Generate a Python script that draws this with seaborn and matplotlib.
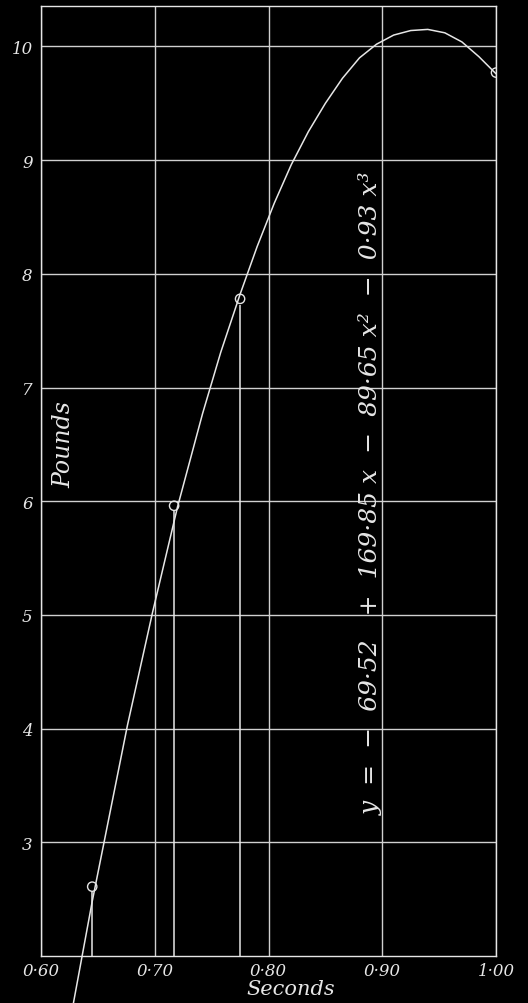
import matplotlib
matplotlib.use("Agg")
import matplotlib.pyplot as plt
import seaborn as sns
import pandas as pd

# curve (seconds, pounds)
curve_x = [0.628, 0.645, 0.656, 0.676, 0.698, 0.720, 0.742, 0.758, 0.775,
           0.790, 0.805, 0.820, 0.835, 0.850, 0.865, 0.880, 0.895, 0.910,
           0.925, 0.940, 0.955, 0.970, 0.985, 1.000]
curve_y = [1.56, 2.48, 3.03, 4.03, 5.02, 5.95, 6.77, 7.31, 7.82,
           8.24, 8.62, 8.96, 9.25, 9.50, 9.72, 9.90, 10.02, 10.10,
           10.14, 10.15, 10.12, 10.04, 9.91, 9.76]

# observed points
obs_x = [0.645, 0.717, 0.775, 1.00]
obs_y = [2.61, 5.96, 7.78, 9.77]

x_ticks = [0.60, 0.70, 0.80, 0.90, 1.00]
x_tick_labels = ["0·60", "0·70", "0·80", "0·90", "1·00"]
y_ticks = [3, 4, 5, 6, 7, 8, 9, 10]
y_tick_labels = ["3", "4", "5", "6", "7", "8", "9", "10"]

equation = "y  =  −  69·52   +  169·85 x  −  89·65 x²  −  0·93 x³"

fg = "#e6e6e6"
sns.set_style("dark", rc={
    "axes.facecolor": "black",
    "figure.facecolor": "black",
    "axes.edgecolor": fg,
    "grid.color": "#d0d0d0",
    "text.color": fg,
    "xtick.color": fg,
    "ytick.color": fg,
    "axes.labelcolor": fg,
})
plt.rcParams["font.family"] = ["DejaVu Serif"]
plt.rcParams["font.style"] = "italic"

fig = plt.figure(figsize=(5.28, 10.04), dpi=100)
ax = fig.add_axes([0.0777, 0.0468, 0.8617, 0.9467])

curve = pd.DataFrame({"x": curve_x, "y": curve_y})
obs = pd.DataFrame({"x": obs_x, "y": obs_y})

ax.set_xlim(0.60, 1.00)
ax.set_ylim(2.0, 10.36)

ax.vlines(obs_x[:3], 2.0, [v - 0.05 for v in obs_y[:3]], color=fg, lw=1.1, zorder=2)
sns.lineplot(data=curve, x="x", y="y", ax=ax, sort=False, estimator=None,
             color=fg, lw=1.1, zorder=3)
for ln in ax.lines:
    ln.set_clip_on(False)
sns.scatterplot(data=obs, x="x", y="y", ax=ax, s=45, facecolor="none",
                edgecolor=fg, linewidth=1.0, zorder=4)

ax.set_xticks(x_ticks)
ax.set_xticklabels(x_tick_labels, fontsize=12, style="italic")
ax.set_yticks(y_ticks)
ax.set_yticklabels(y_tick_labels, fontsize=12, style="italic")
ax.tick_params(axis="both", length=0)
ax.tick_params(axis="x", pad=4)
ax.tick_params(axis="y", pad=6)
ax.grid(True, color="#d0d0d0", lw=1.0)
for sp in ax.spines.values():
    sp.set_visible(True)
    sp.set_color(fg)
    sp.set_linewidth(1.0)

ax.set_xlabel("Seconds", fontsize=15, style="italic")
ax.xaxis.set_label_coords(0.549, -0.024)
ax.set_ylabel("")

ax.text(0.620, 6.51, "Pounds", rotation=90, fontsize=17, style="italic",
        ha="center", va="center", color=fg)
ax.text(0.890, 6.08, equation, rotation=90, fontsize=18, style="italic",
        ha="center", va="center", color=fg)

fig.savefig("out.png", dpi=100, facecolor="black")
